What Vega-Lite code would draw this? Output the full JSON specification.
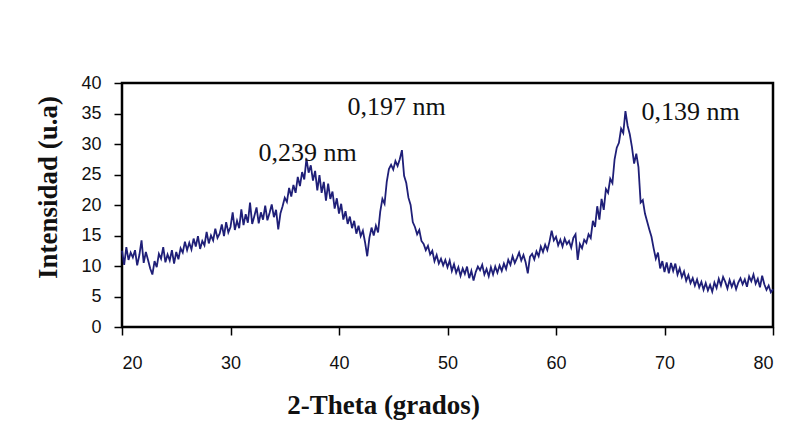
{
  "$schema": "https://vega.github.io/schema/vega-lite/v6.json",
  "width": 651,
  "height": 244,
  "autosize": {"type": "none"},
  "padding": {"left": 122, "top": 83, "right": 23, "bottom": 114},
  "background": "white",
  "config": {
    "view": {"stroke": null},
    "axis": {"grid": false, "domain": false, "tickColor": "black", "tickWidth": 1.5, "labelOverlap": false,
      "labelFont": "Liberation Sans", "labelFontSize": 18, "labelColor": "#111",
      "titleFont": "Liberation Serif", "titleFontSize": 27, "titleFontWeight": "bold", "titleColor": "#111"}
  },
  "resolve": {"axis": {"x": "independent", "y": "independent"}},
  "layer": [
    {
      "data": {"values": [
        {"t": 20, "i": 40, "k": 0},
        {"t": 20, "i": 0, "k": 1},
        {"t": 80, "i": 0, "k": 2},
        {"t": 80, "i": 40, "k": 3},
        {"t": 20, "i": 40, "k": 4}
      ]},
      "mark": {"type": "line", "color": "black", "strokeWidth": 2.5, "opacity": 1, "strokeOpacity": 1, "interpolate": "linear", "strokeCap": "square"},
      "encoding": {
        "x": {"field": "t", "type": "quantitative", "axis": null},
        "y": {"field": "i", "type": "quantitative", "axis": null},
        "order": {"field": "k", "type": "quantitative"}
      }
    },
    {
      "data": {"values": [
        {"t":20.0,"i":12.5},{"t":20.2,"i":10.2},{"t":20.4,"i":13.1},{"t":20.6,"i":11.0},{"t":20.8,"i":12.2},
        {"t":21.0,"i":11.4},{"t":21.2,"i":12.6},{"t":21.4,"i":10.1},{"t":21.6,"i":11.8},{"t":21.8,"i":14.2},
        {"t":22.0,"i":10.5},{"t":22.2,"i":12.3},{"t":22.4,"i":11.0},{"t":22.6,"i":9.6},{"t":22.8,"i":8.6},
        {"t":23.0,"i":10.8},{"t":23.2,"i":9.8},{"t":23.4,"i":12.0},{"t":23.6,"i":11.2},{"t":23.8,"i":13.1},
        {"t":24.0,"i":10.6},{"t":24.2,"i":11.9},{"t":24.4,"i":10.9},{"t":24.6,"i":12.6},{"t":24.8,"i":10.4},
        {"t":25.0,"i":12.3},{"t":25.2,"i":11.1},{"t":25.4,"i":12.9},{"t":25.6,"i":12.2},{"t":25.8,"i":14.0},
        {"t":26.0,"i":12.6},{"t":26.2,"i":13.8},{"t":26.4,"i":12.7},{"t":26.6,"i":14.5},{"t":26.8,"i":13.2},
        {"t":27.0,"i":14.9},{"t":27.2,"i":12.8},{"t":27.4,"i":14.1},{"t":27.6,"i":13.4},{"t":27.8,"i":15.6},
        {"t":28.0,"i":13.7},{"t":28.2,"i":15.0},{"t":28.4,"i":14.2},{"t":28.6,"i":16.1},{"t":28.8,"i":14.6},
        {"t":29.0,"i":15.3},{"t":29.2,"i":16.8},{"t":29.4,"i":14.9},{"t":29.6,"i":17.2},{"t":29.8,"i":15.5},
        {"t":30.0,"i":16.4},{"t":30.2,"i":18.8},{"t":30.4,"i":15.9},{"t":30.6,"i":17.4},{"t":30.8,"i":16.2},
        {"t":31.0,"i":19.3},{"t":31.2,"i":16.7},{"t":31.4,"i":18.5},{"t":31.6,"i":17.1},{"t":31.8,"i":20.4},
        {"t":32.0,"i":16.9},{"t":32.2,"i":18.2},{"t":32.4,"i":19.6},{"t":32.6,"i":17.0},{"t":32.8,"i":18.8},
        {"t":33.0,"i":17.6},{"t":33.2,"i":19.9},{"t":33.4,"i":17.5},{"t":33.6,"i":18.7},{"t":33.8,"i":20.1},
        {"t":34.0,"i":18.0},{"t":34.2,"i":19.2},{"t":34.4,"i":16.0},{"t":34.6,"i":18.6},{"t":34.8,"i":19.8},
        {"t":35.0,"i":21.2},{"t":35.2,"i":20.5},{"t":35.4,"i":22.8},{"t":35.6,"i":21.4},{"t":35.8,"i":23.3},
        {"t":36.0,"i":22.0},{"t":36.2,"i":24.6},{"t":36.4,"i":23.1},{"t":36.6,"i":25.4},{"t":36.8,"i":24.2},
        {"t":37.0,"i":27.6},{"t":37.2,"i":25.3},{"t":37.4,"i":26.5},{"t":37.6,"i":24.0},{"t":37.8,"i":25.6},
        {"t":38.0,"i":22.4},{"t":38.2,"i":24.9},{"t":38.4,"i":22.0},{"t":38.6,"i":23.8},{"t":38.8,"i":20.7},
        {"t":39.0,"i":23.5},{"t":39.2,"i":21.0},{"t":39.4,"i":22.2},{"t":39.6,"i":19.4},{"t":39.8,"i":21.1},
        {"t":40.0,"i":18.6},{"t":40.2,"i":20.2},{"t":40.4,"i":17.6},{"t":40.6,"i":19.0},{"t":40.8,"i":16.9},
        {"t":41.0,"i":18.1},{"t":41.2,"i":16.2},{"t":41.4,"i":17.4},{"t":41.6,"i":15.3},{"t":41.8,"i":16.6},
        {"t":42.0,"i":14.9},{"t":42.2,"i":15.8},{"t":42.4,"i":13.9},{"t":42.6,"i":11.6},{"t":42.8,"i":14.6},
        {"t":43.0,"i":16.3},{"t":43.2,"i":15.0},{"t":43.4,"i":16.6},{"t":43.6,"i":15.5},{"t":43.8,"i":18.9},
        {"t":44.0,"i":21.0},{"t":44.2,"i":20.2},{"t":44.4,"i":23.8},{"t":44.6,"i":25.9},{"t":44.8,"i":26.6},
        {"t":45.0,"i":25.8},{"t":45.2,"i":27.2},{"t":45.4,"i":26.4},{"t":45.6,"i":27.5},{"t":45.8,"i":29.0},
        {"t":46.0,"i":24.8},{"t":46.2,"i":23.6},{"t":46.4,"i":21.2},{"t":46.6,"i":20.0},{"t":46.8,"i":17.2},
        {"t":47.0,"i":16.4},{"t":47.2,"i":15.2},{"t":47.4,"i":15.9},{"t":47.6,"i":14.1},{"t":47.8,"i":13.6},
        {"t":48.0,"i":12.6},{"t":48.2,"i":13.3},{"t":48.4,"i":11.9},{"t":48.6,"i":12.5},{"t":48.8,"i":10.8},
        {"t":49.0,"i":11.8},{"t":49.2,"i":10.4},{"t":49.4,"i":11.2},{"t":49.6,"i":10.1},{"t":49.8,"i":11.0},
        {"t":50.0,"i":9.8},{"t":50.2,"i":10.9},{"t":50.4,"i":9.2},{"t":50.6,"i":10.3},{"t":50.8,"i":8.9},
        {"t":51.0,"i":9.8},{"t":51.2,"i":8.4},{"t":51.4,"i":9.6},{"t":51.6,"i":8.7},{"t":51.8,"i":9.9},
        {"t":52.0,"i":8.0},{"t":52.2,"i":9.2},{"t":52.4,"i":7.6},{"t":52.6,"i":9.0},{"t":52.8,"i":9.9},
        {"t":53.0,"i":9.3},{"t":53.2,"i":10.2},{"t":53.4,"i":8.6},{"t":53.6,"i":9.5},{"t":53.8,"i":8.3},
        {"t":54.0,"i":9.8},{"t":54.2,"i":8.6},{"t":54.4,"i":9.9},{"t":54.6,"i":8.9},{"t":54.8,"i":10.1},
        {"t":55.0,"i":9.2},{"t":55.2,"i":10.4},{"t":55.4,"i":9.5},{"t":55.6,"i":11.0},{"t":55.8,"i":10.2},
        {"t":56.0,"i":11.6},{"t":56.2,"i":10.5},{"t":56.4,"i":11.3},{"t":56.6,"i":12.2},{"t":56.8,"i":10.9},
        {"t":57.0,"i":11.8},{"t":57.2,"i":10.6},{"t":57.4,"i":8.8},{"t":57.6,"i":11.5},{"t":57.8,"i":12.0},
        {"t":58.0,"i":11.1},{"t":58.2,"i":12.4},{"t":58.4,"i":11.6},{"t":58.6,"i":13.2},{"t":58.8,"i":12.3},
        {"t":59.0,"i":13.5},{"t":59.2,"i":12.6},{"t":59.4,"i":14.0},{"t":59.6,"i":15.8},{"t":59.8,"i":14.2},
        {"t":60.0,"i":14.8},{"t":60.2,"i":13.4},{"t":60.4,"i":14.3},{"t":60.6,"i":13.2},{"t":60.8,"i":14.5},
        {"t":61.0,"i":13.6},{"t":61.2,"i":14.1},{"t":61.4,"i":13.0},{"t":61.6,"i":14.6},{"t":61.8,"i":15.2},
        {"t":62.0,"i":11.0},{"t":62.2,"i":13.6},{"t":62.4,"i":12.9},{"t":62.6,"i":14.3},{"t":62.8,"i":13.8},
        {"t":63.0,"i":15.2},{"t":63.2,"i":14.6},{"t":63.4,"i":17.4},{"t":63.6,"i":16.4},{"t":63.8,"i":19.8},
        {"t":64.0,"i":17.6},{"t":64.2,"i":21.0},{"t":64.4,"i":19.2},{"t":64.6,"i":22.6},{"t":64.8,"i":22.0},
        {"t":65.0,"i":24.3},{"t":65.2,"i":23.6},{"t":65.4,"i":27.5},{"t":65.6,"i":29.4},{"t":65.8,"i":30.2},
        {"t":66.0,"i":32.5},{"t":66.2,"i":31.8},{"t":66.4,"i":35.4},{"t":66.6,"i":33.0},{"t":66.8,"i":31.6},
        {"t":67.0,"i":29.5},{"t":67.2,"i":26.8},{"t":67.4,"i":28.4},{"t":67.6,"i":26.2},{"t":67.8,"i":20.4},
        {"t":68.0,"i":20.8},{"t":68.2,"i":18.6},{"t":68.4,"i":17.3},{"t":68.6,"i":16.0},{"t":68.8,"i":14.8},
        {"t":69.0,"i":12.9},{"t":69.2,"i":11.2},{"t":69.4,"i":12.2},{"t":69.6,"i":9.6},{"t":69.8,"i":10.8},
        {"t":70.0,"i":9.0},{"t":70.2,"i":10.6},{"t":70.4,"i":8.8},{"t":70.6,"i":10.5},{"t":70.8,"i":9.2},
        {"t":71.0,"i":10.4},{"t":71.2,"i":8.6},{"t":71.4,"i":9.6},{"t":71.6,"i":8.2},{"t":71.8,"i":9.1},
        {"t":72.0,"i":7.6},{"t":72.2,"i":8.5},{"t":72.4,"i":7.2},{"t":72.6,"i":8.0},{"t":72.8,"i":6.8},
        {"t":73.0,"i":7.8},{"t":73.2,"i":6.5},{"t":73.4,"i":7.4},{"t":73.6,"i":6.1},{"t":73.8,"i":7.2},
        {"t":74.0,"i":6.0},{"t":74.2,"i":6.9},{"t":74.4,"i":5.8},{"t":74.6,"i":7.3},{"t":74.8,"i":6.4},
        {"t":75.0,"i":7.9},{"t":75.2,"i":6.8},{"t":75.4,"i":8.2},{"t":75.6,"i":7.4},{"t":75.8,"i":6.3},
        {"t":76.0,"i":7.7},{"t":76.2,"i":6.6},{"t":76.4,"i":7.5},{"t":76.6,"i":6.2},{"t":76.8,"i":7.3},
        {"t":77.0,"i":8.0},{"t":77.2,"i":7.0},{"t":77.4,"i":7.8},{"t":77.6,"i":6.6},{"t":77.8,"i":8.3},
        {"t":78.0,"i":7.5},{"t":78.2,"i":8.6},{"t":78.4,"i":7.1},{"t":78.6,"i":7.9},{"t":78.8,"i":6.5},
        {"t":79.0,"i":8.4},{"t":79.2,"i":7.0},{"t":79.4,"i":6.1},{"t":79.6,"i":6.8},{"t":79.8,"i":5.7},
        {"t":80.0,"i":6.2}
      ]},
      "mark": {"type": "line", "color": "#1f1f78", "strokeWidth": 1.8, "interpolate": "linear"},
      "encoding": {
        "x": {"field": "t", "type": "quantitative",
          "scale": {"domain": [20, 80], "nice": false, "zero": false},
          "axis": {"orient": "bottom", "values": [20, 30, 40, 50, 60, 70, 80], "title": "2-Theta (grados)", "tickSize": 8, "labelPadding": 19, "titlePadding": 20, "titleX": 261}},
        "y": {"field": "i", "type": "quantitative",
          "scale": {"domain": [0, 40], "nice": false},
          "axis": {"orient": "left", "values": [0, 5, 10, 15, 20, 25, 30, 35, 40], "title": "Intensidad (u.a)", "tickSize": 8, "labelPadding": 13, "titlePadding": 18, "titleY": 104}}
      }
    },
    {
      "data": {"values": [
        {"t": 37.1, "i": 28.5, "label": "0,239 nm"},
        {"t": 45.3, "i": 36.1, "label": "0,197 nm"},
        {"t": 72.4, "i": 35.2, "label": "0,139 nm"}
      ]},
      "mark": {"type": "text", "font": "Liberation Serif", "fontSize": 26, "color": "#111", "baseline": "middle", "align": "center"},
      "encoding": {
        "x": {"field": "t", "type": "quantitative", "axis": null},
        "y": {"field": "i", "type": "quantitative", "axis": null},
        "text": {"field": "label"}
      }
    }
  ]
}
